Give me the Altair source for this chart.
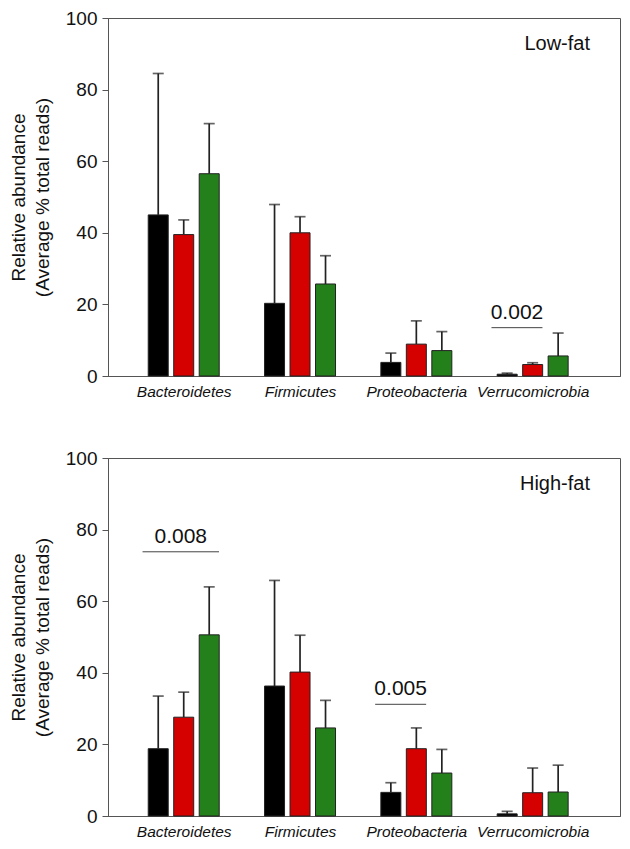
import altair as alt
import pandas as pd

categories = ["Bacteroidetes", "Firmicutes", "Proteobacteria", "Verrucomicrobia"]
series = ["Group 1", "Group 2", "Group 3"]
colors = ["#000000", "#d50000", "#23801b"]
y_ticks = [0, 20, 40, 60, 80, 100]

low_fat_mean = {
    "Group 1": [45.0, 20.3, 3.8, 0.5],
    "Group 2": [39.5, 40.0, 8.9, 3.2],
    "Group 3": [56.5, 25.7, 7.1, 5.6],
}
low_fat_err = {
    "Group 1": [39.5, 27.6, 2.6, 0.3],
    "Group 2": [4.1, 4.5, 6.5, 0.5],
    "Group 3": [14.0, 7.9, 5.3, 6.4],
}
high_fat_mean = {
    "Group 1": [18.8, 36.3, 6.6, 0.6],
    "Group 2": [27.6, 40.2, 18.8, 6.5],
    "Group 3": [50.6, 24.6, 12.0, 6.7],
}
high_fat_err = {
    "Group 1": [14.7, 29.5, 2.7, 0.7],
    "Group 2": [7.0, 10.3, 5.8, 6.9],
    "Group 3": [13.4, 7.7, 6.6, 7.5],
}

# significance annotations: (category, first series, last series, bracket level, p-value)
low_fat_pvals = [("Verrucomicrobia", "Group 1", "Group 2", 13.5, "0.002")]
high_fat_pvals = [
    ("Bacteroidetes", "Group 1", "Group 3", 73.8, "0.008"),
    ("Proteobacteria", "Group 1", "Group 2", 31.2, "0.005"),
]

PLOT_W = 512
PLOT_H = 358
X_DOMAIN = [-0.608, 3.708]
Y_MAX = 100
UNIT_PX = PLOT_W / (X_DOMAIN[1] - X_DOMAIN[0])
STEP = 26 / UNIT_PX
HALF = 10 / UNIT_PX
FONT = "Liberation Sans"


def long_table(means, errs):
    rows = []
    for si, s in enumerate(series):
        for ci, c in enumerate(categories):
            m = means[s][ci]
            rows.append({"category": c, "series": s, "gi": ci, "si": si,
                         "mean": m, "top": m + errs[s][ci]})
    return pd.DataFrame(rows)


def pval_table(pvals):
    rows = []
    for c, s1, s2, lvl, txt in pvals:
        gi = categories.index(c)
        a = gi + (series.index(s1) - 1) * STEP - HALF - 6 / UNIT_PX
        b = gi + (series.index(s2) - 1) * STEP + HALF
        rows.append({"x1": a, "x2": b, "mid": (a + b) / 2, "level": lvl, "p": txt})
    return pd.DataFrame(rows)


label_expr = "[" + ",".join("'%s'" % c for c in categories) + "][datum.value]"

x_scale = alt.Scale(domain=X_DOMAIN, nice=False, zero=False)
y_scale = alt.Scale(domain=[0, Y_MAX], nice=False)
color_scale = alt.Scale(domain=series, range=colors)


def panel(means, errs, pvals, name):
    df = long_table(means, errs)
    base = alt.Chart(df).transform_calculate(
        pos="datum.gi + (datum.si - 1) * %f" % STEP
    )
    x_enc = alt.X(
        "pos:Q", scale=x_scale, title=None,
        axis=alt.Axis(values=[0, 1, 2, 3], labelExpr=label_expr, ticks=False,
                      grid=False, labelFlush=False, labelOverlap=False,
                      labelFont=FONT, labelFontSize=15.5, labelFontStyle="italic",
                      labelColor="#111", labelPadding=8, domainColor="#555"),
    )
    y_axis = alt.Axis(values=y_ticks, grid=False, tickSize=6, tickColor="#555",
                      domainColor="#555", labelFont=FONT, labelFontSize=19,
                      labelColor="#111", labelPadding=5,
                      title=["Relative abundance", "(Average % total reads)"],
                      titleFont=FONT, titleFontSize=19, titleFontWeight="normal",
                      titleColor="#111", titlePadding=13, titleLineHeight=24)
    err = base.mark_rule(color="#222", strokeWidth=1.7).encode(
        x=alt.X("pos:Q", scale=x_scale),
        y=alt.Y("mean:Q", scale=y_scale),
        y2="top:Q",
    )
    cap = base.mark_tick(color="#222", orient="horizontal", size=11, thickness=1.7).encode(
        x=alt.X("pos:Q", scale=x_scale),
        y=alt.Y("top:Q", scale=y_scale),
    )
    bars = base.mark_bar(size=20, stroke="#222", strokeWidth=1).encode(
        x=x_enc,
        y=alt.Y("mean:Q", scale=y_scale, axis=y_axis),
        color=alt.Color("series:N", scale=color_scale, legend=None),
    )
    pdf = pval_table(pvals)
    pbase = alt.Chart(pdf)
    brk = pbase.mark_rule(color="#444", strokeWidth=1).encode(
        x=alt.X("x1:Q", scale=x_scale), x2="x2:Q",
        y=alt.Y("level:Q", scale=y_scale),
    )
    ptxt = pbase.mark_text(font=FONT, fontSize=21, color="#111", baseline="bottom",
                           dy=-5).encode(
        x=alt.X("mid:Q", scale=x_scale),
        y=alt.Y("level:Q", scale=y_scale),
        text="p:N",
    )
    ndf = pd.DataFrame({"name": [name], "x": [X_DOMAIN[1]], "y": [Y_MAX]})
    ntxt = alt.Chart(ndf).mark_text(font=FONT, fontSize=20, color="#111",
                                    align="right", baseline="alphabetic",
                                    dx=-25, dy=32).encode(
        x=alt.X("x:Q", scale=x_scale),
        y=alt.Y("y:Q", scale=y_scale),
        text="name:N",
    )
    return alt.layer(err, cap, bars, brk, ptxt, ntxt).properties(
        width=PLOT_W, height=PLOT_H,
    )


top = panel(low_fat_mean, low_fat_err, low_fat_pvals, "Low-fat")
bottom = panel(high_fat_mean, high_fat_err, high_fat_pvals, "High-fat")

chart = alt.vconcat(top, bottom, spacing=82, bounds="flush").properties(
    padding={"left": 0, "top": 0, "right": 0, "bottom": 0}
).configure_view(stroke="#555", strokeWidth=1)

chart.save("out.html", embed_options={"renderer": "svg", "actions": False})
